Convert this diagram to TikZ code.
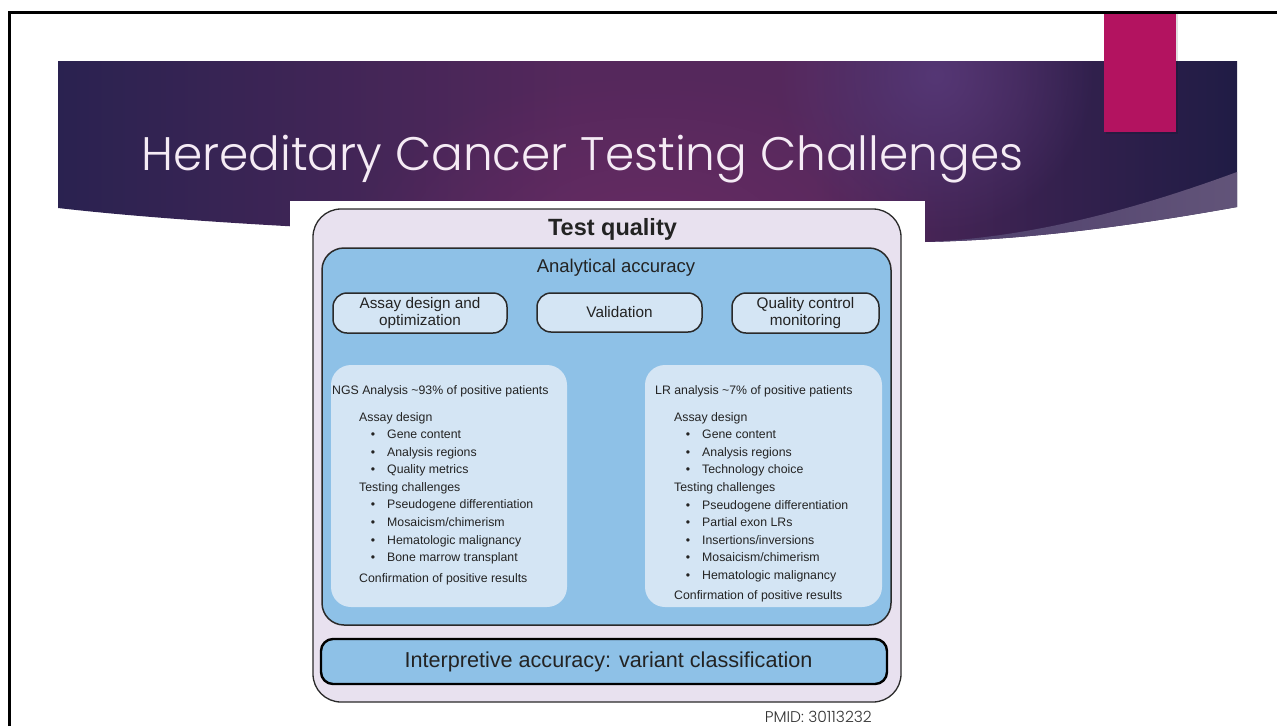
\documentclass[tikz,border=0pt]{standalone}
\usepackage{fontspec}
\setmainfont{Liberation Sans}
\newfontfamily\titlefont{Poppins Light}
\usetikzlibrary{fadings}

\definecolor{bannerL}{HTML}{2A2250}
\definecolor{bannerM}{HTML}{55285C}
\definecolor{bannerR}{HTML}{201C45}
\definecolor{glowc}{HTML}{553775}
\definecolor{magglow}{HTML}{6E2D66}
\definecolor{swooshL}{HTML}{4E3F6C}
\definecolor{swooshR}{HTML}{625479}
\definecolor{accent}{HTML}{B31360}
\definecolor{lavender}{HTML}{E8E1EF}
\definecolor{skyblue}{HTML}{8EC1E7}
\definecolor{paleblue}{HTML}{D4E5F4}
\definecolor{ink}{HTML}{232323}
\definecolor{edge}{HTML}{2A2A2A}

% the path's width maps onto 25bp..75bp of the shading
\pgfdeclarehorizontalshading{bannershade}{100bp}{%
  color(0bp)=(bannerL); color(25bp)=(bannerL); color(47bp)=(bannerM);
  color(57bp)=(bannerM); color(67bp)=(bannerR!60!bannerM); color(75bp)=(bannerR);
  color(100bp)=(bannerR)}
\tikzfading[name=glowfade, inner color=transparent!0, outer color=transparent!100]

\tikzset{
  frame/.style={draw=edge, line width=#1, inner sep=0pt},
  outerbox/.style={frame=1.3pt, fill=lavender, rounded corners=28pt},
  bluebox/.style={frame=1.5pt, fill=skyblue, rounded corners=22pt},
  pill/.style={frame=1.5pt, fill=paleblue, rounded corners=14pt},
  panel/.style={fill=paleblue, inner sep=0pt, rounded corners=20pt},
  interpbox/.style={draw=black, line width=2.4pt, fill=skyblue, inner sep=0pt, rounded corners=12pt},
  ptext/.style={inner sep=0pt, text=ink, font=\fontsize{12.3}{14}\selectfont, anchor=base west},
  bul/.style={inner sep=0pt, text=ink, font=\fontsize{12.3}{14}\selectfont, anchor=base},
  pilltext/.style={inner sep=0pt, text=ink, align=center, font=\fontsize{15.3}{17.5}\selectfont},
}

\begin{document}
\begin{tikzpicture}[x=1pt, y=-1pt]
  \useasboundingbox (0,0) rectangle (1277,726);
  \fill[white] (0,0) rectangle (1277,726);

  % slide frame edges
  \draw[black, line width=2.5pt] (9.5,726) -- (9.5,12.5) -- (1277,12.5);

  % title banner
  \def\bannerpath{(58,61) -- (1237,61) -- (1237,207)
      .. controls (1120,228) and (1020,240) .. (925,242)
      .. controls (600,242) and (250,230) .. (58,208) -- cycle}
  \shade[shading=bannershade] \bannerpath;
  \begin{scope}
    \clip \bannerpath;
    \fill[magglow, path fading=glowfade, opacity=0.7] (650,240) ellipse (300 and 170);
    \fill[glowc, path fading=glowfade] (935,75) circle (160);
  \end{scope}
  % light swoosh along the banner's lower right edge
  \shade[left color=swooshL, right color=swooshR]
    (1237,172) .. controls (1120,215) and (1020,238) .. (925,242)
    .. controls (1020,240) and (1120,228) .. (1237,207) -- cycle;

  % accent tab
  \fill[black, opacity=0.12] (1106,14) rectangle (1178,134);
  \fill[accent] (1104,14) rectangle (1176,132);

  % title
  \node[anchor=base west, inner sep=0pt, text=white!92!violet]
    (title) at (141,170) {\titlefont\fontsize{47}{50}\selectfont Hereditary Cancer Testing Challenges};

  % figure area
  \fill[white] (290,201) rectangle (925,260);

  \node[outerbox, minimum width=588pt, minimum height=493pt] (tq) at (607,455.5) {};
  \node[inner sep=0pt, text=ink, font=\bfseries\fontsize{23.5}{26}\selectfont] (tqlabel) at (612.5,229) {Test quality};

  \node[bluebox, minimum width=569pt, minimum height=377pt] (aa) at (606.5,436.5) {};
  \node[inner sep=0pt, text=ink, font=\fontsize{18.5}{21}\selectfont] (aalabel) at (616,268) {Analytical accuracy};

  \node[pill, minimum width=174pt, minimum height=40pt] (p1) at (420,313) {};
  \node[pill, minimum width=165pt, minimum height=39pt] (p2) at (619.5,312.5) {};
  \node[pill, minimum width=147pt, minimum height=40pt] (p3) at (805.5,313) {};
  \node[pilltext] (p1t) at (p1) {Assay design and\\optimization};
  \node[pilltext] (p2t) at (p2) {Validation};
  \node[pilltext] (p3t) at (p3) {Quality control\\monitoring};

  % NGS panel
  \node[panel, minimum width=236pt, minimum height=242pt] (ngs) at (449,486) {};
  \node[ptext] (ngsh) at (332,394.4) {NGS Analysis \textasciitilde93\% of positive patients};
  \node[ptext] (ngsa) at (359,421.4) {Assay design};
  \node[ptext] (ngst) at (359,491.4) {Testing challenges};
  \node[ptext] (ngsc) at (359,582.4) {Confirmation of positive results};
  \foreach \y/\t [count=\i] in {434/{Gene content}, 452/{Analysis regions}, 469/{Quality metrics},
      504/{Pseudogene differentiation}, 522/{Mosaicism/chimerism},
      540/{Hematologic malignancy}, 557/{Bone marrow transplant}} {
    \node[bul] (ngsb\i) at (373,\y+4.4) {\textbullet};
    \node[ptext] (ngsi\i) at (387,\y+4.4) {\t};
  }

  % LR panel
  \node[panel, minimum width=237pt, minimum height=242pt] (lr) at (763.5,486) {};
  \node[ptext] (lrh) at (655,394.4) {LR analysis \textasciitilde7\% of positive patients};
  \node[ptext] (lra) at (674,421.4) {Assay design};
  \node[ptext] (lrt) at (674,491.4) {Testing challenges};
  \node[ptext] (lrc) at (674,599.4) {Confirmation of positive results};
  \foreach \y/\t [count=\i] in {434/{Gene content}, 452/{Analysis regions}, 469/{Technology choice},
      505/{Pseudogene differentiation}, 522/{Partial exon LRs},
      540/{Insertions/inversions}, 557/{Mosaicism/chimerism}, 575/{Hematologic malignancy}} {
    \node[bul] (lrb\i) at (688,\y+4.4) {\textbullet};
    \node[ptext] (lri\i) at (702,\y+4.4) {\t};
  }

  % interpretive accuracy bar
  \node[interpbox, minimum width=566pt, minimum height=45pt] (ia) at (604,661.5) {};
  \node[inner sep=0pt, text=ink, font=\fontsize{21.6}{25}\selectfont] (ialabel) at (608.5,662) {Interpretive accuracy: variant classification};

  % source reference
  \node[anchor=base east, inner sep=0pt, text=black!80] (pmid) at (872,722.5)
    {\titlefont\fontsize{15.5}{17}\selectfont PMID: 30113232};
\end{tikzpicture}
\end{document}
